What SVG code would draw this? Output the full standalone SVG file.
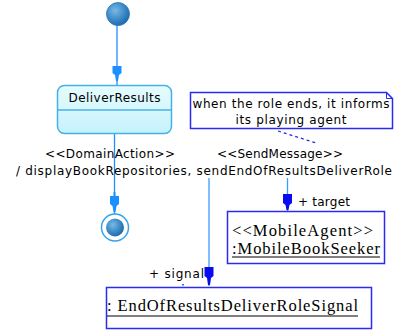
<svg xmlns="http://www.w3.org/2000/svg" width="396" height="330" viewBox="0 0 396 330">
  <style>
    .lbl { font-family: "DejaVu Sans", "Liberation Sans", sans-serif; font-size: 12px; fill: #000; }
    .obj { font-family: "Liberation Serif", "Times New Roman", serif; font-size: 16.5px; fill: #000; }
    .flow { stroke: #1e8fff; stroke-width: 1.3; fill: none; }
    .link { stroke: #3a9cff; stroke-width: 1.3; fill: none; }
    .box { fill: #fff; stroke: #2a2af0; stroke-width: 1.5; }
    .noteLink { stroke: #2a2af0; stroke-width: 1.3; stroke-dasharray: 3 3; fill: none; }
  </style>
  <defs>
    <radialGradient id="ball" cx="0.38" cy="0.35" r="0.7">
      <stop offset="0" stop-color="#7ab8e4"/>
      <stop offset="0.6" stop-color="#3a88c6"/>
      <stop offset="1" stop-color="#1d66a8"/>
    </radialGradient>
    <linearGradient id="stateFill" x1="0" y1="0" x2="0" y2="1">
      <stop offset="0" stop-color="#e6fcff"/>
      <stop offset="1" stop-color="#c6f2fb"/>
    </linearGradient>
  </defs>

  <!-- connectors -->
  <g id="connectors">
    <!-- initial -> DeliverResults -->
    <line class="flow" x1="117" y1="25" x2="117" y2="85"/>
    <path d="M112.5,66 L121.5,66 L121.5,73 L119,75 L118,81 L116,81 L115,75 L112.5,73 Z" fill="#1e8fff"/>
    <!-- DeliverResults -> final -->
    <line class="flow" x1="114.5" y1="134" x2="114.5" y2="214"/>
    <path d="M113.5,192 L115.5,192 L115.5,196 L119,196 L119,204 L116.5,206 L115.5,212 L113.5,212 L112.5,206 L110,204 L110,196 L113.5,196 Z" fill="#1e8fff"/>
    <!-- signal link -->
    <line class="link" x1="209" y1="178" x2="209" y2="286"/>
    <path d="M204.5,267 L213.5,267 L213.5,276 L211,278 L210,285 L208,285 L207,278 L204.5,276 Z" fill="#0a0af0"/>
    <!-- target link -->
    <line class="link" x1="287.5" y1="178" x2="287.5" y2="211"/>
    <path d="M283,194 L292,194 L292,203 L289.5,205 L288.5,210 L286.5,210 L285.5,205 L283,203 Z" fill="#0a0af0"/>
    <!-- note attachment -->
    <path class="noteLink" d="M278,131 L316,143"/>
    <path class="noteLink" d="M321,169 L331,172" stroke-dasharray="4 2"/>
    <rect x="182" y="284" width="2" height="1.5" fill="#3a6cff"/>
  </g>

  <!-- initial state -->
  <g id="initial">
    <circle cx="118" cy="14" r="11.5" fill="url(#ball)" stroke="#2a78b8" stroke-width="0.8"/>
  </g>

  <!-- DeliverResults state -->
  <g id="DeliverResults">
    <rect x="57.5" y="85.5" width="114" height="48" rx="7" fill="url(#stateFill)" stroke="#45b2e6" stroke-width="1.5"/>
    <line x1="57.5" y1="110" x2="171.5" y2="110" stroke="#45b2e6" stroke-width="1.3"/>
    <text class="lbl" x="114.5" y="101.5" text-anchor="middle" textLength="92">DeliverResults</text>
  </g>

  <!-- final state -->
  <g id="final">
    <circle cx="115" cy="227.5" r="13.5" fill="#fff" stroke="#33a4ee" stroke-width="1.5"/>
    <circle cx="115" cy="227.5" r="9" fill="url(#ball)"/>
  </g>

  <!-- transition labels -->
  <g id="transitionLabel">
    <text class="lbl" x="110" y="157.5" text-anchor="middle" textLength="130">&lt;&lt;DomainAction&gt;&gt;</text>
    <text class="lbl" x="280" y="157.5" text-anchor="middle" textLength="126">&lt;&lt;SendMessage&gt;&gt;</text>
    <text class="lbl" x="16" y="174.5" textLength="376">/ displayBookRepositories, sendEndOfResultsDeliverRole</text>
  </g>

  <!-- note -->
  <g id="note">
    <path d="M190.5,92.5 L386.5,92.5 L392.5,98.5 L392.5,128.5 L190.5,128.5 Z" fill="#fff" stroke="#2a2af0" stroke-width="1.5"/>
    <path d="M386.5,92.5 L386.5,98.5 L392.5,98.5" fill="none" stroke="#2a2af0" stroke-width="1"/>
    <text class="lbl" x="291" y="107.5" text-anchor="middle" textLength="197">when the role ends, it informs</text>
    <text class="lbl" x="291" y="123.5" text-anchor="middle" textLength="111">its playing agent</text>
  </g>

  <!-- MobileBookSeeker object -->
  <g id="MobileBookSeeker">
    <rect class="box" x="227.5" y="211.5" width="157" height="52"/>
    <text class="obj" x="232" y="236" textLength="141">&lt;&lt;MobileAgent&gt;&gt;</text>
    <text class="obj" x="232" y="254" textLength="148">:MobileBookSeeker</text>
    <line x1="232" y1="257" x2="380" y2="257" stroke="#000" stroke-width="1"/>
    <text class="lbl" x="298" y="205.5" textLength="52">+ target</text>
  </g>

  <!-- EndOfResultsDeliverRoleSignal object -->
  <g id="EndOfResultsDeliverRoleSignal">
    <rect class="box" x="106.5" y="287.5" width="265" height="41"/>
    <text class="obj" x="107" y="311" textLength="251">: EndOfResultsDeliverRoleSignal</text>
    <line x1="107" y1="316" x2="358" y2="316" stroke="#000" stroke-width="1"/>
    <text class="lbl" x="149" y="277.5" textLength="55">+ signal</text>
  </g>
</svg>
